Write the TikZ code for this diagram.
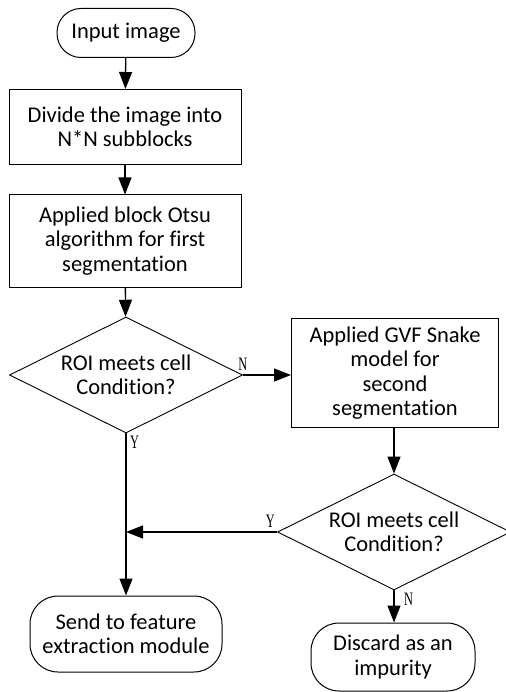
\documentclass[tikz,border=0pt]{standalone}
\usepackage{fontspec}
\setmainfont{Carlito}[Ligatures=NoCommon, Contextuals=NoAlternate, RawFeature=-liga]
\newfontfamily\ynfont[FakeStretch=0.65]{Liberation Serif}
\usetikzlibrary{shapes.geometric,arrows.meta}

\tikzset{
    startstop/.style={draw, line width=1pt, rounded corners=24pt, align=center, inner sep=0pt},
    process/.style={draw, line width=1pt, align=center, inner sep=0pt, minimum width=232pt},
    decision/.style={draw, diamond, line width=0.9pt, inner sep=0pt, minimum width=233pt, minimum height=116pt},
    flow/.style={->, line width=1.3pt},
    yn/.style={font=\ynfont\fontsize{19}{19}\selectfont, inner sep=2pt}
}

\begin{document}
\begin{tikzpicture}[>={Triangle[length=17pt, width=13pt]}, x=1pt, y=-1pt,
    every node/.append style={font=\fontsize{22.5}{24.5}\selectfont}]

    % Marco del dibujo
    \useasboundingbox (0,0) rectangle (505,692);

    % Nodos de la columna izquierda
    \node[startstop, minimum width=138pt, minimum height=49pt] (input) at (126,33) {Input image};
    \node[process, minimum height=75pt] (divide) at (125,127) {Divide the image into\\N*N subblocks};
    \node[process, minimum height=92pt] (otsu) at (125,241) {Applied block Otsu\\algorithm for first\\segmentation};
    \node[decision, label={[align=center]center:ROI meets cell\\Condition?}] (check1) at (126,375) {};
    \node[startstop, rounded corners=28pt, minimum width=192pt, minimum height=76pt] (send) at (126,634) {Send to feature\\extraction module};

    % Nodos de la columna derecha
    \node[process, minimum width=207pt, minimum height=109pt] (snake) at (395,373) {Applied GVF Snake\\model for\\second\\segmentation};
    \node[decision, label={[align=center]center:ROI meets cell\\Condition?}] (check2) at (394,532) {};
    \node[startstop, rounded corners=28pt, minimum width=164pt, minimum height=68pt] (discard) at (393,657) {Discard as an\\impurity};

    % Punto de union de la rama Y
    \coordinate (join) at (check1.south |- check2.west);

    % Flechas principales
    \draw[flow] (input) -- (divide);
    \draw[flow] (divide) -- (otsu);
    \draw[flow] (otsu) -- (check1);
    \draw[flow] (check1) -- (send);
    \draw[flow] (check1.east) -- (check1.east -| snake.west);
    \draw[flow] (snake.south -| check2.north) -- (check2);
    \draw[flow] (check2.west) -- (join);
    \draw[flow] (check2.south) -- (check2.south |- discard.north);

    % Etiquetas Y / N
    \node[yn, anchor=south] (n1) at ([yshift=2pt]check1.east) {N};
    \node[yn, anchor=north west] (y1) at ([xshift=2pt]check1.south) {Y};
    \node[yn, anchor=south east] (y2) at ([yshift=2pt]check2.west) {Y};
    \node[yn, anchor=north west] (n2) at ([xshift=8pt]check2.south) {N};

\end{tikzpicture}
\end{document}
